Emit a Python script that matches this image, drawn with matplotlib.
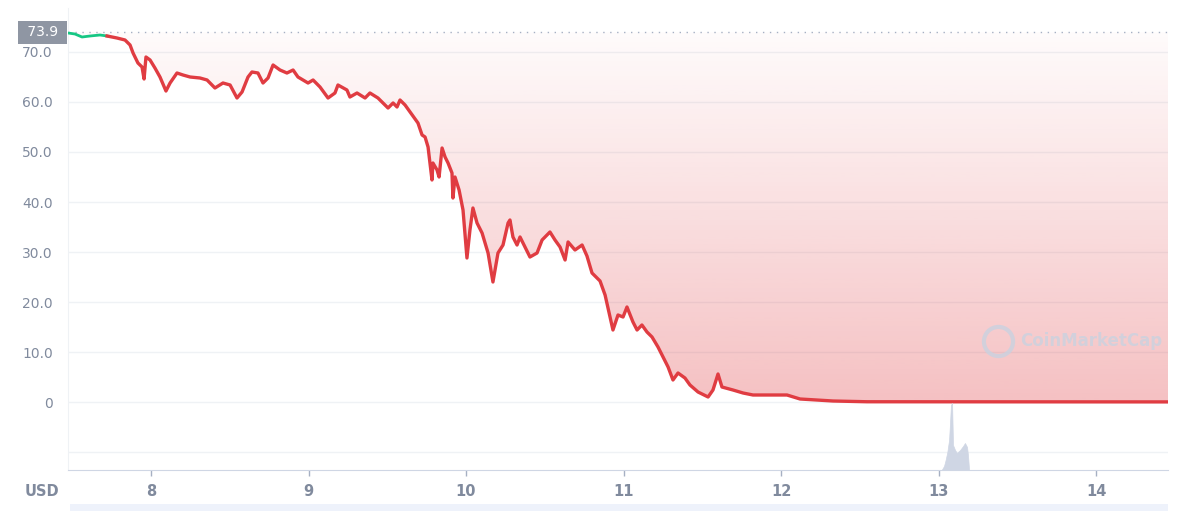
import numpy as np
import matplotlib
matplotlib.use("Agg")
import matplotlib.pyplot as plt
from matplotlib.patches import Rectangle

# price path (x = day of month, y = USD)
days = [7.473, 7.517, 7.562, 7.613, 7.676, 7.721, 7.784, 7.835, 7.867, 7.886,
        7.917, 7.943, 7.956, 7.968, 7.994, 8.025, 8.057, 8.095, 8.121, 8.165,
        8.203, 8.248, 8.311, 8.356, 8.406, 8.457, 8.502, 8.546, 8.578, 8.616,
        8.641, 8.679, 8.711, 8.743, 8.775, 8.819, 8.863, 8.902, 8.933, 8.997,
        9.029, 9.073, 9.124, 9.168, 9.187, 9.244, 9.263, 9.308, 9.359, 9.390,
        9.441, 9.505, 9.537, 9.562, 9.581, 9.613, 9.663, 9.695, 9.721, 9.740,
        9.759, 9.784, 9.790, 9.816, 9.829, 9.848, 9.867, 9.886, 9.911, 9.917,
        9.930, 9.956, 9.981, 10.006, 10.025, 10.044, 10.070, 10.102, 10.140, 10.171,
        10.203, 10.235, 10.267, 10.279, 10.298, 10.324, 10.343, 10.362, 10.406, 10.451,
        10.483, 10.533, 10.565, 10.597, 10.629, 10.648, 10.692, 10.737, 10.768, 10.800,
        10.851, 10.883, 10.914, 10.933, 10.965, 10.997, 11.022, 11.060, 11.086, 11.117,
        11.149, 11.181, 11.219, 11.251, 11.283, 11.314, 11.346, 11.390, 11.422, 11.473,
        11.537, 11.568, 11.600, 11.625, 11.695, 11.759, 11.822, 11.917, 12.038, 12.121,
        12.330, 12.546, 13.390, 14.457]
price = [73.8, 73.6, 73.0, 73.2, 73.4, 73.2, 72.8, 72.4, 71.4, 69.8,
         67.8, 67.0, 64.6, 69.0, 68.4, 66.8, 65.0, 62.2, 63.8, 65.8,
         65.4, 65.0, 64.8, 64.4, 62.8, 63.8, 63.4, 60.8, 62.0, 65.0,
         66.0, 65.8, 63.8, 64.8, 67.4, 66.4, 65.8, 66.4, 65.0, 63.8,
         64.4, 63.0, 60.8, 61.8, 63.4, 62.4, 61.0, 61.8, 60.8, 61.8,
         60.8, 58.8, 59.8, 59.0, 60.4, 59.4, 57.2, 55.8, 53.4, 53.0,
         51.0, 44.4, 47.8, 46.4, 45.0, 50.8, 49.0, 47.8, 45.8, 40.8,
         45.0, 42.4, 38.4, 28.8, 34.4, 38.8, 35.8, 33.8, 29.8, 24.0,
         29.8, 31.4, 35.8, 36.4, 33.0, 31.4, 33.0, 31.8, 29.0, 29.8,
         32.4, 34.0, 32.4, 31.0, 28.4, 32.0, 30.4, 31.4, 29.2, 25.8,
         24.2, 21.4, 17.0, 14.4, 17.4, 17.0, 19.0, 16.0, 14.4, 15.4,
         14.0, 13.0, 11.0, 9.0, 7.0, 4.4, 5.8, 4.8, 3.4, 2.0,
         1.0, 2.4, 5.6, 3.0, 2.4, 1.8, 1.4, 1.4, 1.4, 0.6,
         0.2, 0.05, 0.03, 0.02]

open_price = 73.9

# volume bump (relative units)
vol_days = [13.020, 13.035, 13.045, 13.056, 13.067, 13.073, 13.079, 13.086, 13.092, 13.105,
            13.117, 13.137, 13.156, 13.168, 13.181, 13.187, 13.194]
vol = [0, 4, 10, 18, 30, 47, 65, 67, 25, 20, 17, 20, 24, 27, 23, 15, 0]

xticks = [8, 9, 10, 11, 12, 13, 14]
yticks = [0, 10, 20, 30, 40, 50, 60, 70]

RED = "#e03c42"
GREEN = "#16c784"
GRAY = "#808a9d"

fig = plt.figure(figsize=(12, 5.11), dpi=100)
ax = fig.add_axes([68 / 1200, 1 - 470 / 511, 1100 / 1200, 462 / 511])

x = np.array(days)
y = np.array(price)

# gradient fill between the line and the opening price
poly = ax.fill_between(x, y, open_price, color="none", lw=0)
grad = np.zeros((256, 1, 4))
c = matplotlib.colors.to_rgb(RED)
grad[:, 0, 0], grad[:, 0, 1], grad[:, 0, 2] = c
grad[:, 0, 3] = np.linspace(0.32, 0.02, 256)
im = ax.imshow(grad, aspect="auto", origin="lower",
               extent=[x[0], x[-1], 0, open_price], zorder=1)
im.set_clip_path(poly.get_paths()[0], transform=ax.transData)

# line: green while near the opening price, then red
n_green = 6
ax.plot(x[:n_green], y[:n_green], color=GREEN, lw=2, zorder=3)
ax.plot(x[n_green - 1:], y[n_green - 1:], color=RED, lw=2.4, zorder=3,
        solid_joinstyle="round")

ax.axhline(open_price, color="#a6b0c3", lw=1, ls=(0, (1, 4)), zorder=2)

# volume on its own scale at the bottom
ax2 = ax.twinx()
ax2.fill_between(vol_days, vol, 0, color="#cfd6e4", lw=0.5, edgecolor="#cfd6e4")
ax2.set_ylim(0, 462)
ax2.axis("off")

ax.set_xlim(x[0], x[-1])
ax.set_ylim(-13.6, 78.8)
ax.set_yticks(yticks)
ax.set_yticklabels(["0"] + ["%.1f" % v for v in yticks[1:]])
ax.set_xticks(xticks)
ax.set_xticklabels([str(v) for v in xticks], fontweight="bold")
for v in yticks + [-10]:
    ax.axhline(v, color="#eff2f5", lw=1, zorder=0)

ax.tick_params(axis="y", length=0, pad=11, labelsize=10, labelcolor=GRAY)
ax.tick_params(axis="x", length=4, width=1, color="#a6b0c3", pad=6,
               labelsize=10.5, labelcolor=GRAY)
for s in ["top", "right"]:
    ax.spines[s].set_visible(False)
ax.spines["left"].set_color("#eff2f5")
ax.spines["bottom"].set_color("#cfd6e4")

ax.text(-0.024, -0.03, "USD", transform=ax.transAxes, ha="center", va="top",
        fontsize=10.5, fontweight="bold", color=GRAY)

# opening price tag
ax.text(-0.005, open_price, " %.1f " % open_price, transform=ax.get_yaxis_transform(),
        ha="right", va="center", fontsize=10, color="white",
        bbox=dict(boxstyle="square,pad=0.35", fc="#8f96a3", ec="none"))

# watermark
ax.plot([13.38], [12.2], marker="o", ms=21, mfc="none", mec="#c9d2e0",
        mew=3, alpha=0.8, zorder=4)
ax.text(13.52, 12.2, "CoinMarketCap", ha="left", va="center", fontsize=12,
        fontweight="bold", color="#c9d2e0", alpha=0.8, zorder=4)

# navigator strip under the chart
fig.add_artist(Rectangle((70 / 1200, 0), 1098 / 1200, 7 / 511,
                         transform=fig.transFigure, color="#eef2fb", lw=0))

fig.savefig("out.png", dpi=100)
